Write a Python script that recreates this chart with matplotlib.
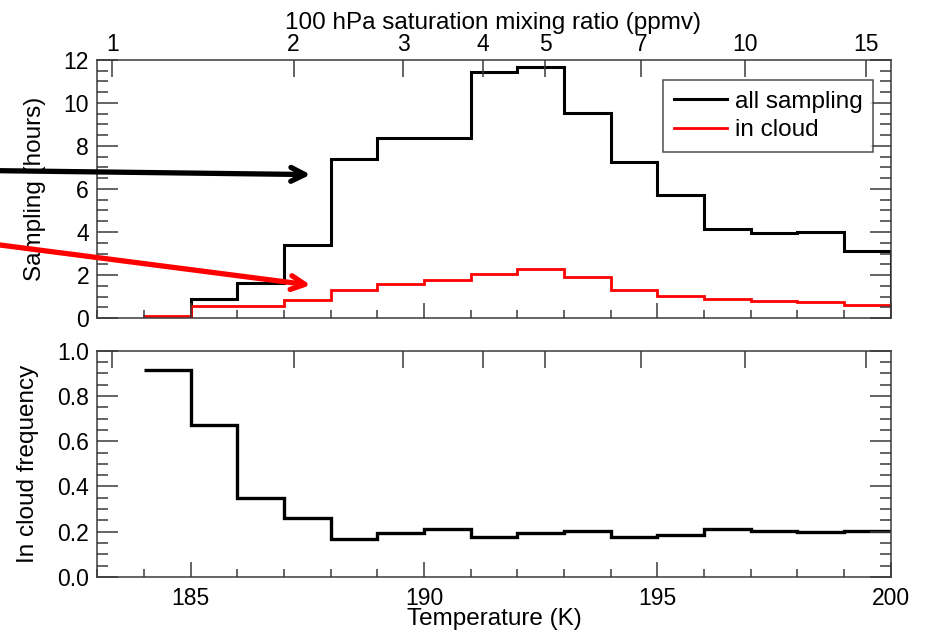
import numpy as np
import matplotlib
matplotlib.use("Agg")
import matplotlib.pyplot as plt
from matplotlib.ticker import MultipleLocator

plt.rcParams['font.family'] = ['Liberation Sans', 'DejaVu Sans']

# temperature bin edges (K)
edges_all = np.arange(185, 201)
edges_cloud = np.arange(184, 201)
edges_freq = np.arange(184, 201)

# sampling hours per 1 K bin
all_sampling = [0.88, 1.65, 3.38, 7.38, 8.36, 8.38, 11.45, 11.68, 9.54, 7.25,
                5.72, 4.12, 3.95, 3.98, 3.12]
in_cloud = [0.08, 0.54, 0.54, 0.85, 1.28, 1.57, 1.77, 2.05, 2.27, 1.93, 1.31,
            1.03, 0.88, 0.77, 0.74, 0.62]
# in cloud frequency per 1 K bin
cloud_freq = [0.915, 0.672, 0.348, 0.259, 0.168, 0.193, 0.211, 0.178, 0.196,
              0.205, 0.178, 0.184, 0.212, 0.202, 0.197, 0.203]

ppmv_ticks = [1, 2, 3, 4, 5, 7, 10, 15]


def sat_mixing_ratio(T, p_hpa=100.0):
    # Murphy & Koop ice saturation vapour pressure (Pa)
    e = np.exp(9.550426 - 5723.265 / T + 3.53068 * np.log(T) - 0.00728332 * T)
    return e / (p_hpa * 100.0) * 1e6


def temp_for_ppmv(q):
    lo, hi = 170.0, 220.0
    for _ in range(60):
        mid = 0.5 * (lo + hi)
        if sat_mixing_ratio(mid) < q:
            lo = mid
        else:
            hi = mid
    return 0.5 * (lo + hi)


ppmv_pos = [temp_for_ppmv(q) for q in ppmv_ticks]

fs = 16.5      # tick labels
lfs = 17.5     # axis labels, legend
spine_c = '#3a3a3a'

fig = plt.figure(figsize=(9.28, 6.34), dpi=100)
ax1 = fig.add_axes([0.1049, 0.4984, 0.855, 0.407])
ax2 = fig.add_axes([0.1049, 0.0899, 0.855, 0.3569])

ax1.stairs(all_sampling, edges_all, baseline=0, color='black', lw=2.2, label='all sampling')
ax1.stairs(in_cloud, edges_cloud, baseline=0, color='red', lw=2.0, label='in cloud')
ax2.stairs(cloud_freq, edges_freq, baseline=None, color='black', lw=2.4)

ax1.set_xlim(183, 200)
ax1.set_ylim(0, 12)
ax2.set_xlim(183, 200)
ax2.set_ylim(0, 1)

for ax in (ax1, ax2):
    for s in ax.spines.values():
        s.set_color(spine_c)
        s.set_linewidth(1.1)
    ax.xaxis.set_major_locator(MultipleLocator(5))
    ax.xaxis.set_minor_locator(MultipleLocator(1))
    ax.tick_params(axis='x', which='major', direction='in', length=11, width=1.1,
                   top=False, labelsize=fs, color=spine_c, pad=7)
    ax.tick_params(axis='x', which='minor', direction='in', length=6, width=1.1,
                   top=False, color=spine_c)
    ax.tick_params(axis='y', which='major', direction='in', length=15, width=1.1,
                   right=True, labelsize=fs, color=spine_c, pad=6)
    ax.tick_params(axis='y', which='minor', direction='in', length=8, width=1.1,
                   right=True, color=spine_c)

ax1.yaxis.set_major_locator(MultipleLocator(2))
ax1.yaxis.set_minor_locator(MultipleLocator(0.5))
ax1.tick_params(axis='x', labelbottom=False)
ax2.yaxis.set_major_locator(MultipleLocator(0.2))
ax2.yaxis.set_minor_locator(MultipleLocator(0.05))
ax2.yaxis.set_major_formatter(matplotlib.ticker.FormatStrFormatter('%.1f'))

# saturation mixing ratio ticks on top of both panels
for ax, show in ((ax1, True), (ax2, False)):
    tw = ax.twiny()
    tw.set_xlim(ax.get_xlim())
    tw.set_xticks(ppmv_pos)
    tw.set_xticklabels([str(q) for q in ppmv_ticks] if show else [])
    tw.tick_params(axis='x', direction='in', length=12, width=1.1, labelsize=fs,
                   color=spine_c, pad=3)
    for s in tw.spines.values():
        s.set_visible(False)

ax1.set_ylabel('Sampling (hours)', fontsize=lfs)
ax1.yaxis.set_label_coords(-0.065, 0.5)
ax2.set_ylabel('In cloud frequency', fontsize=lfs)
ax2.yaxis.set_label_coords(-0.074, 0.5)
ax2.set_xlabel('Temperature (K)', fontsize=lfs)
ax2.xaxis.set_label_coords(0.5, -0.135)
fig.text(0.531, 0.9637, '100 hPa saturation mixing ratio (ppmv)', fontsize=lfs,
         ha='center', va='center')

leg = ax1.legend(loc='upper right', fontsize=lfs, frameon=True, fancybox=False,
                 handlelength=2.2, handletextpad=0.3, borderpad=0.45,
                 labelspacing=0.25, borderaxespad=0,
                 bbox_to_anchor=(0.978, 0.9225))
leg.get_frame().set_edgecolor('#222222')
leg.get_frame().set_linewidth(1.1)

# pointer arrows coming in from the left edge of the figure
arrow_style = '->,head_length=1.0,head_width=0.5'
ax1.annotate('', xy=(187.57, 6.67), xycoords='data',
             xytext=(0.0, 1 - 170.7 / 634), textcoords='figure fraction',
             arrowprops=dict(arrowstyle=arrow_style, color='black', lw=3.8,
                             shrinkA=0, shrinkB=0),
             annotation_clip=False)
ax1.annotate('', xy=(187.57, 1.53), xycoords='data',
             xytext=(0.0, 1 - 245.0 / 634), textcoords='figure fraction',
             arrowprops=dict(arrowstyle=arrow_style, color='red', lw=3.8,
                             shrinkA=0, shrinkB=0),
             annotation_clip=False)

fig.savefig('out.png', dpi=100)
